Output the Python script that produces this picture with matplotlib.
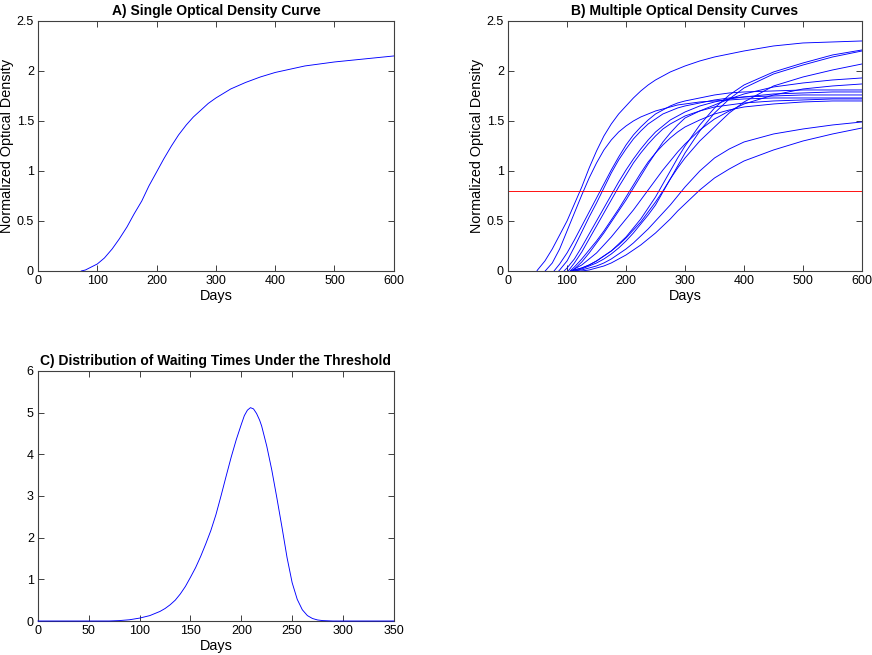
import numpy as np
import matplotlib
matplotlib.use("Agg")
import matplotlib.pyplot as plt
from matplotlib.ticker import FuncFormatter

# ============================================================
# CONFIG
# ============================================================

plt.rcParams["font.family"] = ["Liberation Sans", "DejaVu Sans"]

FIGSIZE = (8.72, 6.55)
DPI = 100
LINE_COLOR = "#0000ff"
THRESH_COLOR = "#ff0000"
AXIS_COLOR = "0.25"
LINE_WIDTH = 0.65

TICK_SIZE = 9
LABEL_SIZE = 10.4
TITLE_SIZE = 10

# ============================================================
# DATA - A) single curve
# ============================================================

A_DAYS = [73, 80, 90, 100, 112, 125, 137, 150, 162, 175, 187, 200, 212, 225,
          237, 250, 262, 275, 287, 300, 325, 350, 375, 400, 450, 500, 550, 600]
A_OD = [0.0, 0.01, 0.04, 0.07, 0.13, 0.22, 0.32, 0.44, 0.57, 0.70, 0.85,
        0.99, 1.12, 1.25, 1.36, 1.46, 1.54, 1.61, 1.675, 1.73, 1.82, 1.885,
        1.94, 1.985, 2.05, 2.09, 2.12, 2.15]

# ============================================================
# DATA - B) multiple curves (common day grid, each curve starts at its onset)
# ============================================================

nan = np.nan
B_DAYS = [50, 62.5, 75, 87.5, 100, 112.5, 125, 137.5, 150, 162.5, 175, 187.5,
          200, 212.5, 225, 237.5, 250, 262.5, 275, 287.5, 300, 325, 350, 375,
          400, 450, 500, 550, 600]
B_ONSET = [49, 63, 78, 86, 95, 102, 105, 108, 106, 110, 112, 108, 112, 125]

B_CURVE_01 = [0.01, 0.10, 0.22, 0.36, 0.50, 0.67, 0.84, 1.03, 1.20, 1.35, 1.47, 1.57, 1.65, 1.73, 1.80,
              1.86, 1.91, 1.95, 1.99, 2.02, 2.05, 2.10, 2.14, 2.17, 2.20, 2.25, 2.28, 2.29, 2.30]
B_CURVE_02 = [nan] * 2 + [0.08, 0.22, 0.40, 0.58, 0.76, 0.93, 1.08, 1.21, 1.31, 1.39, 1.45, 1.50, 1.54,
                          1.57, 1.60, 1.62, 1.64, 1.66, 1.67, 1.69, 1.70, 1.71, 1.72, 1.73, 1.73, 1.73, 1.73]
B_CURVE_03 = [nan] * 3 + [0.07, 0.18, 0.31, 0.45, 0.59, 0.73, 0.87, 1.01, 1.14, 1.26, 1.36, 1.44,
                          1.51, 1.57, 1.61, 1.65, 1.68, 1.70, 1.73, 1.76, 1.78, 1.79, 1.80, 1.81, 1.81, 1.81]
B_CURVE_04 = [nan] * 3 + [0.01, 0.10, 0.24, 0.39, 0.54, 0.68, 0.83, 0.98, 1.11, 1.22, 1.32, 1.40,
                          1.47, 1.52, 1.57, 1.60, 1.63, 1.65, 1.68, 1.71, 1.73, 1.74, 1.75, 1.76, 1.76, 1.76]
B_CURVE_05 = [nan] * 4 + [0.03, 0.12, 0.24, 0.37, 0.50, 0.63, 0.76, 0.89, 1.01, 1.12, 1.22,
                          1.31, 1.39, 1.45, 1.51, 1.55, 1.59, 1.65, 1.69, 1.72, 1.74, 1.77, 1.78, 1.79, 1.79]
B_CURVE_06 = [nan] * 5 + [0.08, 0.19, 0.32, 0.45, 0.58, 0.71, 0.84, 0.96, 1.08, 1.18,
                          1.27, 1.35, 1.42, 1.47, 1.51, 1.55, 1.60, 1.64, 1.66, 1.68, 1.70, 1.71, 1.72, 1.72]
B_CURVE_07 = [nan] * 5 + [0.04, 0.12, 0.21, 0.30, 0.40, 0.51, 0.62, 0.74, 0.86, 0.98,
                          1.09, 1.18, 1.26, 1.33, 1.39, 1.44, 1.51, 1.57, 1.61, 1.64, 1.67, 1.69, 1.70, 1.70]
B_CURVE_08 = [nan] * 5 + [0.02, 0.09, 0.18, 0.28, 0.38, 0.49, 0.60, 0.71, 0.83, 0.95,
                          1.07, 1.18, 1.29, 1.38, 1.46, 1.53, 1.60, 1.66, 1.72, 1.77, 1.84, 1.88, 1.91, 1.93]
B_CURVE_09 = [nan] * 5 + [0.02, 0.06, 0.12, 0.18, 0.26, 0.34, 0.43, 0.52, 0.61, 0.71,
                          0.81, 0.91, 1.01, 1.10, 1.19, 1.27, 1.41, 1.52, 1.60, 1.67, 1.76, 1.82, 1.85, 1.87]
B_CURVE_10 = [nan] * 5 + [0.01, 0.03, 0.06, 0.10, 0.15, 0.20, 0.27, 0.34, 0.43, 0.52,
                          0.63, 0.74, 0.87, 1.00, 1.13, 1.25, 1.46, 1.63, 1.76, 1.86, 1.99, 2.08, 2.16, 2.21]
B_CURVE_11 = [nan] * 6 + [0.02, 0.05, 0.08, 0.12, 0.17, 0.23, 0.30, 0.38, 0.47,
                          0.56, 0.66, 0.79, 0.92, 1.05, 1.18, 1.40, 1.58, 1.72, 1.83, 1.97, 2.06, 2.14, 2.20]
B_CURVE_12 = [nan] * 5 + [0.01, 0.03, 0.06, 0.10, 0.15, 0.20, 0.26, 0.33, 0.41, 0.49,
                          0.59, 0.69, 0.80, 0.92, 1.03, 1.13, 1.30, 1.44, 1.58, 1.69, 1.85, 1.94, 2.01, 2.07]
B_CURVE_13 = [nan] * 6 + [0.01, 0.03, 0.05, 0.08, 0.12, 0.17, 0.22, 0.28, 0.35,
                          0.42, 0.50, 0.58, 0.66, 0.75, 0.84, 1.00, 1.13, 1.22, 1.29, 1.37, 1.42, 1.46, 1.49]
B_CURVE_14 = [nan] * 7 + [0.01, 0.03, 0.05, 0.08, 0.12, 0.16, 0.21, 0.26,
                          0.32, 0.38, 0.45, 0.52, 0.60, 0.67, 0.81, 0.93, 1.02, 1.10, 1.21, 1.30, 1.37, 1.43]

B_CURVES = [B_CURVE_01, B_CURVE_02, B_CURVE_03, B_CURVE_04, B_CURVE_05,
            B_CURVE_06, B_CURVE_07, B_CURVE_08, B_CURVE_09, B_CURVE_10,
            B_CURVE_11, B_CURVE_12, B_CURVE_13, B_CURVE_14]

THRESHOLD = 0.8

# ============================================================
# DATA - C) waiting time distribution
# ============================================================

C_DAYS = [0, 50, 70, 80, 85, 90, 95, 100, 105, 110, 115, 120, 125, 130, 135,
          140, 145, 150, 155, 160, 165, 170, 175, 180, 185, 190, 195, 200,
          203, 206, 209, 212, 215, 218, 220, 225, 230, 235, 240, 245, 250,
          255, 260, 265, 270, 275, 280, 290, 350]
C_DENSITY = [0.0, 0.0, 0.0, 0.01, 0.02, 0.03, 0.05, 0.07, 0.10, 0.13, 0.18,
             0.23, 0.30, 0.39, 0.50, 0.65, 0.83, 1.05, 1.28, 1.55, 1.85,
             2.17, 2.55, 3.00, 3.47, 3.93, 4.35, 4.72, 4.93, 5.06, 5.12,
             5.09, 4.98, 4.82, 4.68, 4.20, 3.62, 2.95, 2.25, 1.52, 0.92,
             0.52, 0.27, 0.13, 0.06, 0.025, 0.01, 0.0, 0.0]

# ============================================================
# HELPERS
# ============================================================

def g_format(value, pos):
    return f"{value:g}"


def style_axis(ax, xlim, xticks, ylim, yticks):
    """MATLAB-like boxed axis with inward ticks on all sides"""
    ax.set_xlim(*xlim)
    ax.set_ylim(*ylim)
    ax.set_xticks(xticks)
    ax.set_yticks(yticks)
    ax.xaxis.set_major_formatter(FuncFormatter(g_format))
    ax.yaxis.set_major_formatter(FuncFormatter(g_format))
    ax.tick_params(direction="in", top=True, right=True, length=4,
                   width=0.7, color=AXIS_COLOR, labelsize=TICK_SIZE, pad=3)
    for spine in ax.spines.values():
        spine.set_color(AXIS_COLOR)
        spine.set_linewidth(0.8)


# ============================================================
# FIGURE
# ============================================================

fig = plt.figure(figsize=FIGSIZE, dpi=DPI)
ax_a = fig.add_axes([0.0436, 0.5863, 0.408, 0.3817])
ax_b = fig.add_axes([0.5826, 0.5863, 0.406, 0.3817])
ax_c = fig.add_axes([0.0436, 0.0519, 0.408, 0.3817])

# A) single curve
ax_a.plot(A_DAYS, A_OD, color=LINE_COLOR, linewidth=LINE_WIDTH)
style_axis(ax_a, (0, 600), range(0, 601, 100), (0, 2.5), np.arange(0, 2.51, 0.5))
ax_a.set_title("A) Single Optical Density Curve", fontsize=TITLE_SIZE,
               fontweight="bold", pad=4)
ax_a.set_xlabel("Days", fontsize=LABEL_SIZE, labelpad=1)
ax_a.set_ylabel("Normalized Optical Density", fontsize=LABEL_SIZE, labelpad=2)

# B) multiple curves
for onset, values in zip(B_ONSET, B_CURVES):
    keep = [(d, v) for d, v in zip(B_DAYS, values) if d > onset and not np.isnan(v)]
    days = [onset] + [d for d, _ in keep]
    od = [0.0] + [v for _, v in keep]
    ax_b.plot(days, od, color=LINE_COLOR, linewidth=LINE_WIDTH)
ax_b.axhline(THRESHOLD, color=THRESH_COLOR, linewidth=LINE_WIDTH)
style_axis(ax_b, (0, 600), range(0, 601, 100), (0, 2.5), np.arange(0, 2.51, 0.5))
ax_b.set_title("B) Multiple Optical Density Curves", fontsize=TITLE_SIZE,
               fontweight="bold", pad=4)
ax_b.set_xlabel("Days", fontsize=LABEL_SIZE, labelpad=1)
ax_b.set_ylabel("Normalized Optical Density", fontsize=LABEL_SIZE, labelpad=2)

# C) waiting times
ax_c.plot(C_DAYS, C_DENSITY, color=LINE_COLOR, linewidth=LINE_WIDTH, zorder=3,
          clip_on=False)
style_axis(ax_c, (0, 350), range(0, 351, 50), (0, 6), range(0, 7))
ax_c.set_title("C) Distribution of Waiting Times Under the Threshold",
               fontsize=TITLE_SIZE, fontweight="bold", pad=4)
ax_c.set_xlabel("Days", fontsize=LABEL_SIZE, labelpad=1)

fig.savefig("out.png", dpi=DPI)
plt.close(fig)
